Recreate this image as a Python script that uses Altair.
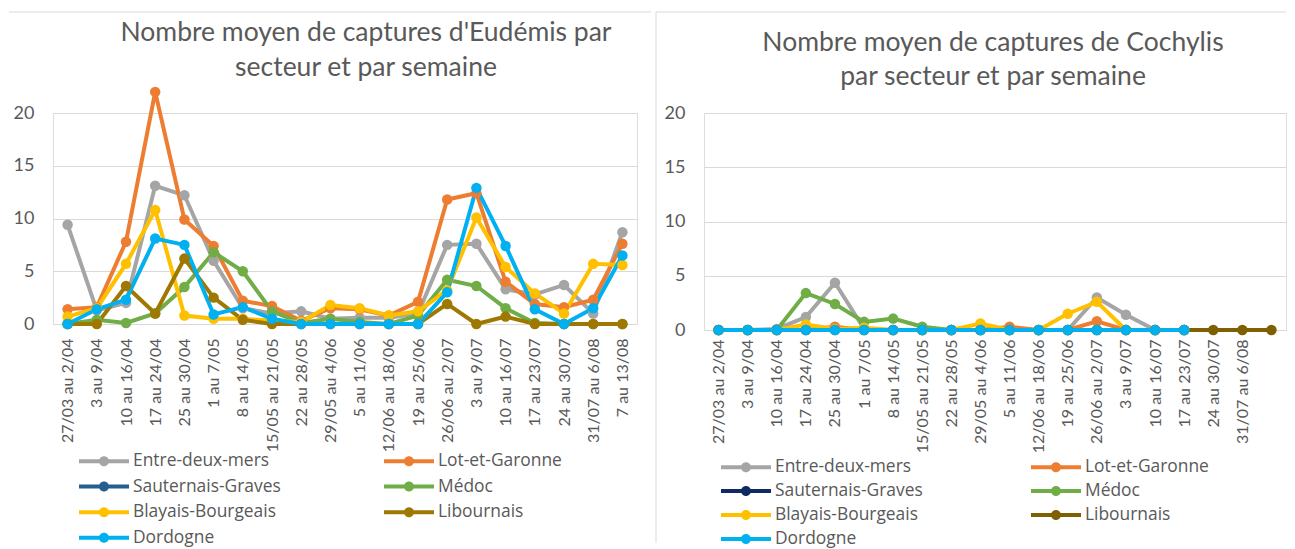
import altair as alt
import pandas as pd

# ---------------- data ----------------
semaines = ["27/03 au 2/04", "3 au 9/04", "10 au 16/04", "17 au 24/04", "25 au 30/04",
            "1 au 7/05", "8 au 14/05", "15/05 au 21/05", "22 au 28/05", "29/05 au 4/06",
            "5 au 11/06", "12/06 au 18/06", "19 au 25/06", "26/06 au 2/07", "3 au 9/07",
            "10 au 16/07", "17 au 23/07", "24 au 30/07", "31/07 au 6/08", "7 au 13/08"]

secteurs = ["Entre-deux-mers", "Lot-et-Garonne", "Sauternais-Graves", "Médoc",
            "Blayais-Bourgeais", "Libournais", "Dordogne"]

# Eudémis
eud_entre_deux_mers = [9.4, 1.3, 2.0, 13.1, 12.2, 6.0, 1.5, 1.0, 1.2, 0.5, 0.6, 0.6, 1.0, 7.5, 7.6, 3.3, 2.8, 3.7, 1.0, 8.7]
eud_lot_et_garonne = [1.4, 1.6, 7.8, 22.0, 9.9, 7.4, 2.2, 1.7, 0.3, 1.5, 1.4, 0.8, 2.1, 11.8, 12.4, 4.0, 1.9, 1.6, 2.3, 7.6]
eud_sauternais = [None] * 20
eud_medoc = [0.0, 0.4, 0.1, 1.0, 3.5, 6.8, 5.0, 1.2, 0.1, 0.5, 0.2, 0.0, 0.8, 4.2, 3.6, 1.5, 0.1, 0.0, 0.0, 0.0]
eud_blayais = [0.7, 1.5, 5.7, 10.8, 0.8, 0.5, 0.5, 0.3, 0.2, 1.8, 1.5, 0.8, 1.2, 3.2, 10.1, 5.4, 2.9, 1.0, 5.7, 5.6]
eud_libournais = [0.0, 0.0, 3.6, 1.0, 6.2, 2.5, 0.4, 0.0, 0.0, 0.0, 0.0, 0.0, 0.0, 1.9, 0.0, 0.7, 0.0, 0.0, 0.0, 0.0]
eud_dordogne = [0.0, 1.4, 2.3, 8.1, 7.5, 0.9, 1.6, 0.5, 0.0, 0.0, 0.0, 0.0, 0.0, 3.0, 12.9, 7.4, 1.4, 0.0, 1.5, 6.5]

# Cochylis
coch_entre_deux_mers = [0, 0, 0.1, 1.2, 4.35, 0.1, 0, 0, 0, 0, 0, 0, 0, 3.0, 1.4, 0, 0, None, None, None]
coch_lot_et_garonne = [0, 0, 0, 0, 0.3, 0, 0, 0, 0, 0, 0.3, 0, 0, 0.8, 0, 0, 0, None, None, None]
coch_sauternais = [None] * 20
coch_medoc = [0, 0, 0, 3.4, 2.4, 0.75, 1.05, 0.3, 0, 0, 0, 0, 0, 0, 0, 0, 0, None, None, None]
coch_blayais = [0, 0, 0, 0.5, 0.1, 0.2, 0, 0, 0, 0.6, 0, 0, 1.5, 2.6, 0, 0, 0, None, None, None]
coch_libournais = [0] * 20
coch_dordogne = [0] * 17 + [None, None, None]

couleurs_eud = ["#A5A5A5", "#ED7D31", "#255E91", "#70AD47", "#FFC000", "#9E7800", "#00B0F0"]
couleurs_coch = ["#A5A5A5", "#ED7D31", "#102A62", "#70AD47", "#FFC000", "#7F6000", "#00B0F0"]

titre_eud = ["Nombre moyen de captures d'Eudémis par", "secteur et par semaine"]
titre_coch = ["Nombre moyen de captures de Cochylis", "par secteur et par semaine"]

FONT = "Lato"
LEG_FONT = "Open Sans"
GREY_TXT = "#595959"
GRID = "#D9D9D9"

# legend symbol: line with a dot (unit = sqrt(symbolSize)/2 px)
LEG_PATH = ("M-2.5,-0.2L2.5,-0.2L2.5,0.2L-2.5,0.2Z "
            "M0.5,0A0.5,0.5 0 1,1 -0.5,0A0.5,0.5 0 1,1 0.5,0Z")


def long_table(series):
    rows = []
    for k, (name, vals) in enumerate(zip(secteurs, series)):
        for s, v in zip(semaines, vals):
            rows.append({"semaine": s, "secteur": name, "valeur": v, "ordre": k})
    return pd.DataFrame(rows)


def panel(df, colors, title_lines, W, H, title_x, title_y, line_h,
          leg_x, leg_y, row_pad, col_pad, y_pad, x_pad, border_top, border_left,
          border_right, border_bottom, vertical, hide_last):
    x_axis = alt.Axis(labelAngle=270, labelFont=FONT, labelFontSize=16,
                      labelColor=GREY_TXT, ticks=False, domainColor=GRID,
                      labelPadding=x_pad, grid=False,
                      labelExpr=("datum.value == '7 au 13/08' ? '' : datum.label") if hide_last else "datum.label")
    x = alt.X("semaine:N", sort=semaines, scale=alt.Scale(domain=semaines),
              axis=x_axis, title=None)
    y = alt.Y("valeur:Q", scale=alt.Scale(domain=[0, 20], nice=False),
              axis=alt.Axis(values=[0, 5, 10, 15, 20], labelFont=FONT,
                            labelFontSize=18, labelColor=GREY_TXT, ticks=False,
                            domain=False, gridColor=GRID, labelPadding=y_pad),
              title=None)

    # line stroke scale: same mapping, listed in reverse so it stays a separate (legend-less) scale
    lines = alt.Chart(df).mark_line(strokeWidth=4).encode(
        x=x, y=y,
        stroke=alt.Stroke("secteur:N",
                          scale=alt.Scale(domain=secteurs[::-1], range=colors[::-1]),
                          legend=None),
        detail="secteur:N",
    )
    pts = alt.Chart(df).mark_point(filled=True, size=110, opacity=1, strokeWidth=0).encode(
        x=x, y=y,
        color=alt.Color("secteur:N", scale=alt.Scale(domain=secteurs, range=colors),
                        sort=secteurs,
                        legend=alt.Legend(orient="none", legendX=leg_x, legendY=leg_y,
                                          direction="horizontal",
                                          columns=2, columnPadding=col_pad, rowPadding=row_pad,
                                          symbolType=LEG_PATH, symbolSize=400,
                                          symbolStrokeWidth=0, symbolOpacity=1,
                                          labelFont=LEG_FONT, labelFontSize=17.4,
                                          labelColor=GREY_TXT, labelOffset=19,
                                          labelLimit=400, title=None, padding=0)),
        order=alt.Order("ordre:Q"),
    )
    one = alt.Data(values=[{"k": 1}])
    title = alt.Chart(one).mark_text(
        text=title_lines, font=FONT, fontSize=26.5, color=GREY_TXT,
        align="center", baseline="middle", lineHeight=line_h,
    ).encode(x=alt.value(title_x), y=alt.value(title_y))
    top = alt.Chart(one).mark_rule(color=GRID, strokeWidth=1).encode(
        x=alt.value(border_left), x2=alt.value(border_right), y=alt.value(border_top))
    layers = [top]
    if vertical:
        side = alt.Chart(one).mark_rule(color=GRID, strokeWidth=1).encode(
            x=alt.value(border_left), y=alt.value(border_top), y2=alt.value(border_bottom))
        layers.append(side)
    layers += [lines, pts, title]
    return alt.layer(*layers).properties(width=W, height=H)


left = panel(long_table([eud_entre_deux_mers, eud_lot_et_garonne, eud_sauternais, eud_medoc,
                         eud_blayais, eud_libournais, eud_dordogne]),
             couleurs_eud, titre_eud, 584, 211,
             title_x=313, title_y=-80, line_h=35,
             leg_x=41, leg_y=338, row_pad=6.6, col_pad=103, y_pad=19, x_pad=14,
             border_top=-101, border_left=-44, border_right=598, border_bottom=0,
             vertical=False, hide_last=False)

right = panel(long_table([coch_entre_deux_mers, coch_lot_et_garonne, coch_sauternais, coch_medoc,
                          coch_blayais, coch_libournais, coch_dordogne]),
              couleurs_coch, titre_coch, 582, 217,
              title_x=289, title_y=-70, line_h=34,
              leg_x=32, leg_y=344, row_pad=5, col_pad=108, y_pad=19, x_pad=9,
              border_top=-101, border_left=-48, border_right=582, border_bottom=430,
              vertical=True, hide_last=True)

chart = alt.hconcat(left, right, spacing=3).resolve_scale(
    color="independent", stroke="independent").resolve_legend(
    color="independent").properties(
    padding={"top": 3, "left": 0, "right": 0, "bottom": 0}).configure_view(
    strokeWidth=0).configure(background="white")

chart.save("out.html", embed_options={"renderer": "svg", "actions": False})
